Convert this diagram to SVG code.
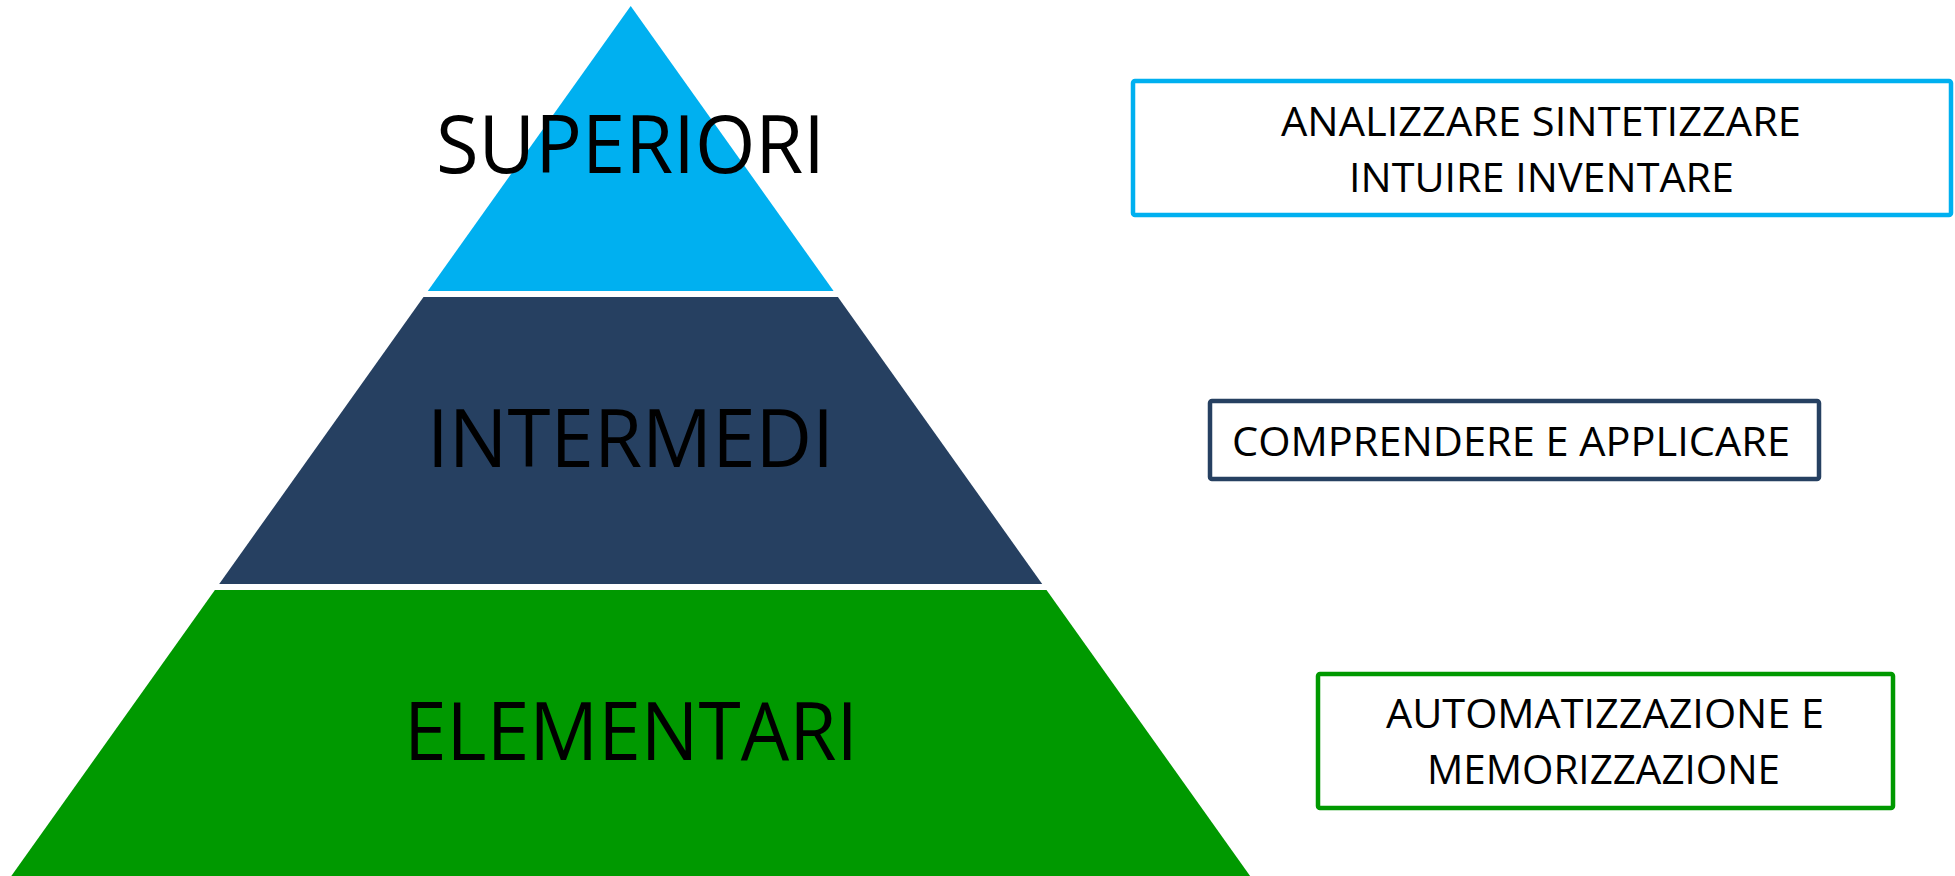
<svg xmlns="http://www.w3.org/2000/svg" width="1955" height="876" viewBox="0 0 1955 876">
  <style>
    .lvl { font-family: "Open Sans", "Noto Sans", sans-serif; font-size: 81px; fill: #000000; }
    .lbl { font-family: "Open Sans", "Noto Sans", sans-serif; font-size: 40.5px; fill: #000000; }
    .box { fill: #FFFFFF; stroke-width: 4.5; }
  </style>
  <rect x="0" y="0" width="1955" height="876" fill="#FFFFFF"/>

  <g id="level-superiori">
    <polygon points="630.7,6 833.6,291 427.8,291" fill="#00B0F0"/>
    <text class="lvl" x="436" y="173" textLength="389" lengthAdjust="spacingAndGlyphs">SUPERIORI</text>
  </g>

  <g id="level-intermedi">
    <polygon points="423.5,297 837.9,297 1042.2,584 219.2,584" fill="#264061"/>
    <text class="lvl" x="427" y="467" textLength="407" lengthAdjust="spacingAndGlyphs">INTERMEDI</text>
  </g>

  <g id="level-elementari">
    <polygon points="214.9,590 1046.5,590 1250.1,876 11.3,876" fill="#009900"/>
    <text class="lvl" x="404" y="760" textLength="454" lengthAdjust="spacingAndGlyphs">ELEMENTARI</text>
  </g>

  <g id="box-superiori">
    <rect class="box" x="1133" y="81" width="818" height="134" rx="2" stroke="#00B0F0"/>
    <text class="lbl" x="1281" y="136" textLength="520" lengthAdjust="spacingAndGlyphs">ANALIZZARE SINTETIZZARE</text>
    <text class="lbl" x="1349" y="192" textLength="385" lengthAdjust="spacingAndGlyphs">INTUIRE INVENTARE</text>
  </g>

  <g id="box-intermedi">
    <rect class="box" x="1210" y="401" width="609" height="78" rx="2" stroke="#264061"/>
    <text class="lbl" x="1232" y="456" textLength="558" lengthAdjust="spacingAndGlyphs">COMPRENDERE E APPLICARE</text>
  </g>

  <g id="box-elementari">
    <rect class="box" x="1318" y="674" width="575" height="134" rx="2" stroke="#009900"/>
    <text class="lbl" x="1386" y="728" textLength="438" lengthAdjust="spacingAndGlyphs">AUTOMATIZZAZIONE E</text>
    <text class="lbl" x="1427" y="784" textLength="353" lengthAdjust="spacingAndGlyphs">MEMORIZZAZIONE</text>
  </g>

  <g id="connectors"></g>
</svg>
